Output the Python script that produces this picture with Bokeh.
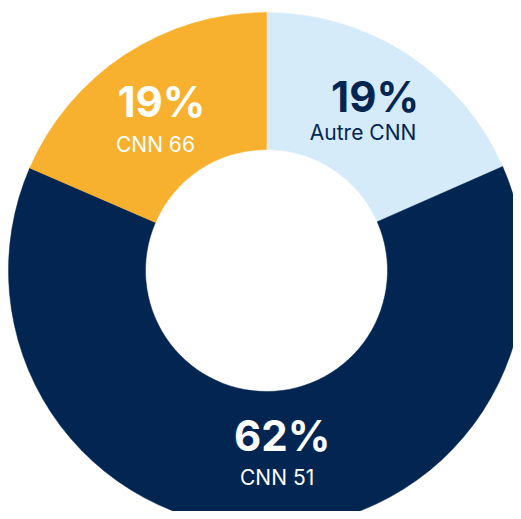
import math
from bokeh.plotting import figure
from bokeh.models import Range1d, ColumnDataSource
from bokeh.core.properties import value
from bokeh.embed import file_html
from bokeh.resources import INLINE

# Data (clockwise from 12 o'clock)
categories = ["Autre CNN", "CNN 51", "CNN 66"]
shares = [18.4, 63.1, 18.5]          # share of the ring
pct_labels = ["19%", "62%", "19%"]
colors = ["#D5EBFA", "#022651", "#F8B12F"]
text_colors = ["#022651", "#FFFFFF", "#FFFFFF"]

R_OUT, R_IN = 258, 121
R_LAB = 195
W, H = 513, 511
CX, CY = 266, 270   # centre in pixels from top-left

p = figure(width=W, height=H, output_backend="svg", toolbar_location=None,
           x_range=Range1d(-CX, W - CX), y_range=Range1d(CY - H, CY),
           min_border=0)
p.axis.visible = False
p.grid.visible = False
p.outline_line_color = None
p.background_fill_color = "white"
p.border_fill_color = "white"

total = sum(shares)
starts, ends, mids = [], [], []
a = math.pi / 2
for s in shares:
    span = 2 * math.pi * s / total
    starts.append(a)
    ends.append(a - span)
    mids.append(a - span / 2)
    a -= span

src = ColumnDataSource(dict(start=starts, end=ends, color=colors))
p.annular_wedge(x=0, y=0, inner_radius=R_IN, outer_radius=R_OUT,
                start_angle="start", end_angle="end", direction="clock",
                color="color", line_color="color", line_width=0.5, source=src)

lx = [R_LAB * math.cos(m) for m in mids]
ly = [R_LAB * math.sin(m) for m in mids]

# pixel nudges per label (order: Autre CNN, CNN 51, CNN 66)
pct_dx = [2, 15, 2]
pct_dy = [-11, -30, -6]
sub_dx = [-10, 10, -4]
sub_dy = [25, 12, 37]

lab = ColumnDataSource(dict(x=lx, y=ly, pct=pct_labels, cat=categories, tc=text_colors,
                            pdx=pct_dx, pdy=pct_dy, sdx=sub_dx, sdy=sub_dy))
p.text(x="x", y="y", text="pct", source=lab, text_color="tc",
       x_offset="pdx", y_offset="pdy",
       text_font=value("Inter"), text_font_style="bold", text_font_size="42px",
       text_align="center", text_baseline="alphabetic")
p.text(x="x", y="y", text="cat", source=lab, text_color="tc",
       x_offset="sdx", y_offset="sdy",
       text_font=value("Inter"), text_font_size="21px",
       text_align="center", text_baseline="alphabetic")

open("out.html", "w").write(file_html(p, INLINE))
